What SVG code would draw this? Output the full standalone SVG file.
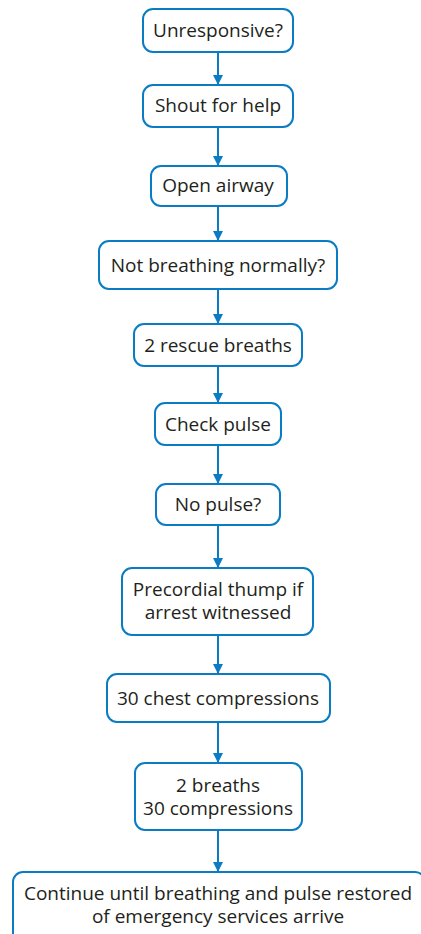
<svg xmlns="http://www.w3.org/2000/svg" width="421" height="934" viewBox="0 0 421 934">
<defs>
<marker id="ah" viewBox="0 0 10 14" refX="10" refY="7" markerWidth="10" markerHeight="14" markerUnits="userSpaceOnUse" orient="auto">
<path d="M0,2 L10,7 L0,12 Z" fill="#0a7cc4"/>
</marker>
<style>
.b{fill:#fff;stroke:#0a7cc4;stroke-width:2}
.t{font-family:"Open Sans","Noto Sans",sans-serif;font-size:19px;fill:#231f20;text-anchor:middle}
.c{stroke:#0a7cc4;stroke-width:2;fill:none;marker-end:url(#ah)}
</style>
</defs>
<rect width="421" height="934" fill="#fff"/>
<g id="connectors">
<line class="c" x1="218" y1="52" x2="218" y2="85"/>
<line class="c" x1="218" y1="127" x2="218" y2="166"/>
<line class="c" x1="218" y1="206" x2="218" y2="241"/>
<line class="c" x1="218" y1="289" x2="218" y2="324"/>
<line class="c" x1="218" y1="366" x2="218" y2="403"/>
<line class="c" x1="218" y1="445" x2="218" y2="484"/>
<line class="c" x1="218" y1="525" x2="218" y2="568"/>
<line class="c" x1="218" y1="635" x2="218" y2="674"/>
<line class="c" x1="218" y1="722" x2="218" y2="763"/>
<line class="c" x1="218" y1="830" x2="218" y2="872"/>
</g>
<g id="n1"><rect class="b" x="143" y="9" width="150" height="43" rx="10"/><text class="t" x="218" y="37">Unresponsive?</text></g>
<g id="n2"><rect class="b" x="143" y="85" width="150" height="42" rx="10"/><text class="t" x="218" y="112">Shout for help</text></g>
<g id="n3"><rect class="b" x="151" y="166" width="136" height="40" rx="10"/><text class="t" x="218" y="192">Open airway</text></g>
<g id="n4"><rect class="b" x="99" y="241" width="238" height="48" rx="10"/><text class="t" x="218" y="272">Not breathing normally?</text></g>
<g id="n5"><rect class="b" x="134" y="324" width="168" height="42" rx="10"/><text class="t" x="218" y="352">2 rescue breaths</text></g>
<g id="n6"><rect class="b" x="155" y="403" width="126" height="42" rx="10"/><text class="t" x="218" y="431">Check pulse</text></g>
<g id="n7"><rect class="b" x="156" y="484" width="124" height="41" rx="10"/><text class="t" x="218" y="511">No pulse?</text></g>
<g id="n8"><rect class="b" x="122" y="568" width="191" height="67" rx="10"/><text class="t" x="218" y="596">Precordial thump if</text><text class="t" x="218" y="619">arrest witnessed</text></g>
<g id="n9"><rect class="b" x="107" y="674" width="223" height="48" rx="10"/><text class="t" x="218" y="705">30 chest compressions</text></g>
<g id="n10"><rect class="b" x="135" y="763" width="167" height="67" rx="10"/><text class="t" x="218" y="792">2 breaths</text><text class="t" x="218" y="815">30 compressions</text></g>
<g id="n11"><rect class="b" x="13" y="872" width="412" height="72" rx="10"/><text class="t" x="218" y="900">Continue until breathing and pulse restored</text><text class="t" x="218" y="923">of emergency services arrive</text></g>
</svg>
